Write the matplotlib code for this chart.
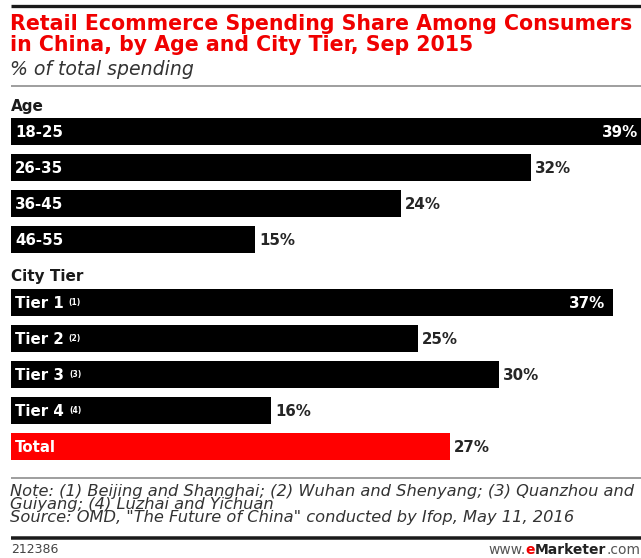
import matplotlib
matplotlib.use('Agg')
import matplotlib.pyplot as plt
from matplotlib.lines import Line2D

# spending share by age group and by city tier (% of total spending)
age_groups = ['18-25', '26-35', '36-45', '46-55']
age_share = [39, 32, 24, 15]
tier_names = ['Tier 1', 'Tier 2', 'Tier 3', 'Tier 4', 'Total']
tier_refs = ['(1)', '(2)', '(3)', '(4)', '']
tier_share = [37, 25, 30, 16, 27]

title_lines = ['Retail Ecommerce Spending Share Among Consumers',
               'in China, by Age and City Tier, Sep 2015']
subtitle = '% of total spending'
note_lines = [
    'Note: (1) Beijing and Shanghai; (2) Wuhan and Shenyang; (3) Quanzhou and',
    'Guiyang; (4) Luzhai and Yichuan',
    'Source: OMD, "The Future of China" conducted by Ifop, May 11, 2016',
]
chart_id = '212386'

W, H = 641, 558
fig = plt.figure(figsize=(W / 100, H / 100), dpi=100)
fig.patch.set_facecolor('white')


def fx(px):
    return px / W


def fy(py):
    return 1 - py / H


def hline(y, lw, color):
    fig.add_artist(Line2D([fx(11), 1], [fy(y), fy(y)], lw=lw * 0.72,
                          color=color, solid_capstyle='butt'))


FONT = 'DejaVu Sans'
RED = '#f00000'

# header
hline(5.6, 3.3, '#1a1a1a')
for i, line in enumerate(title_lines):
    fig.text(fx(10), fy(29.5 + 21.5 * i), line, color=RED, fontsize=14.8,
             fontweight='bold', family=FONT, va='baseline', ha='left')
fig.text(fx(10), fy(75), subtitle, color='#333333', fontsize=13.6,
         style='italic', family=FONT, va='baseline', ha='left')
hline(86, 2, '#a0a0a0')

# bar area: x in percent, y in pixel rows from the top
PX_PER_PCT = 16.26
ax = fig.add_axes([fx(11), 0, 1 - fx(11), 1])
ax.set_xlim(0, (W - 11) / PX_PER_PCT)
ax.set_ylim(H, 0)
ax.axis('off')

ROW = 36.1
BAR_H = 27
age_y = [131 + ROW * i for i in range(len(age_groups))]
tier_y = [302 + ROW * i for i in range(len(tier_names))]


def section_header(text, y_first):
    ax.annotate(text, xy=(0, y_first - BAR_H / 2), xytext=(0, 7),
                textcoords='offset pixels', fontsize=11, fontweight='bold',
                color='#1a1a1a', family=FONT, va='baseline', ha='left')


def draw_bars(names, values, ys, colors, refs=None):
    ax.barh(ys, values, height=BAR_H, color=colors, left=0)
    for i, (name, v, y) in enumerate(zip(names, values, ys)):
        t = ax.annotate(name, xy=(0, y), xytext=(4, -6),
                        textcoords='offset pixels', fontsize=10.8,
                        fontweight='bold', color='white', family=FONT,
                        va='baseline', ha='left')
        if refs and refs[i]:
            ax.annotate(refs[i], xy=(1, 1), xycoords=t, xytext=(5, -2),
                        textcoords='offset pixels', fontsize=5.5,
                        fontweight='bold', color='white', family=FONT,
                        va='top', ha='left')
        label = f'{v}%'
        # long bars carry their value inside, the rest just past the end
        if v >= 35:
            ax.annotate(label, xy=(v, y), xytext=(-7, -6),
                        textcoords='offset pixels', fontsize=10.8,
                        fontweight='bold', color='white', family=FONT,
                        va='baseline', ha='right', annotation_clip=False)
        else:
            ax.annotate(label, xy=(v, y), xytext=(4, -6),
                        textcoords='offset pixels', fontsize=10.8,
                        fontweight='bold', color='#262626', family=FONT,
                        va='baseline', ha='left', annotation_clip=False)


section_header('Age', age_y[0])
draw_bars(age_groups, age_share, age_y, ['black'] * len(age_share))

section_header('City Tier', tier_y[0])
tier_colors = ['#ff0000' if n == 'Total' else 'black' for n in tier_names]
draw_bars(tier_names, tier_share, tier_y, tier_colors, tier_refs)

# footer: notes set tight as one block, baseline of the last line given
hline(477.5, 2, '#a0a0a0')
fig.text(fx(10), fy(522), '\n'.join(note_lines), color='#333333',
         fontsize=11.7, style='italic', family=FONT, va='baseline',
         ha='left', linespacing=0.84)
hline(538.4, 3.5, '#1a1a1a')
fig.text(fx(11), fy(553), chart_id, color='#444444', fontsize=9,
         family=FONT, va='baseline', ha='left')

parts = [('www.', '#555555', 'normal'), ('e', RED, 'bold'),
         ('Marketer', '#222222', 'bold'), ('.com', '#555555', 'normal')]
prev = fig.text(fx(488), fy(554), parts[0][0], color=parts[0][1],
                fontsize=10, fontweight=parts[0][2], family=FONT,
                va='baseline', ha='left')
for txt, col, wt in parts[1:]:
    prev = ax.annotate(txt, xy=(1, 0), xycoords=prev, color=col,
                       fontsize=10, fontweight=wt, family=FONT,
                       va='bottom', ha='left')

fig.savefig('out.png', dpi=100, facecolor='white')
